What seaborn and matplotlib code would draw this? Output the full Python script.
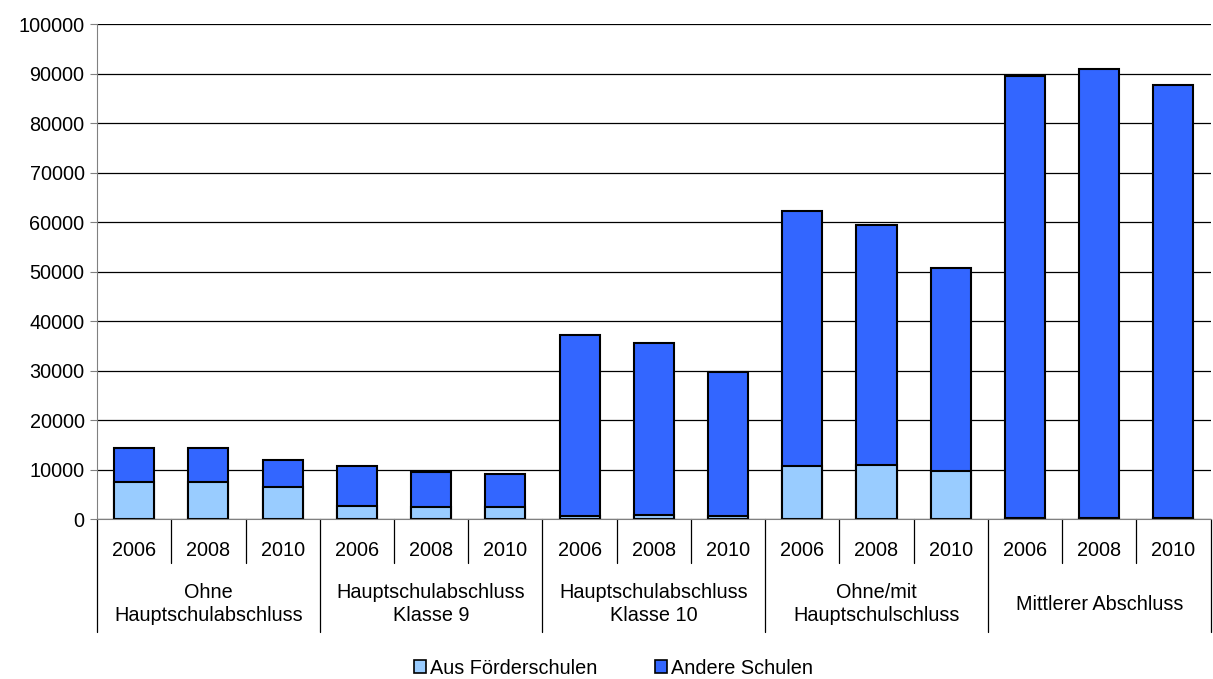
import pandas as pd
import matplotlib.pyplot as plt
import seaborn as sns
from matplotlib.patches import Patch

# -------------------------------
# Data
# -------------------------------
groups = ["Ohne\nHauptschulabschluss", "Hauptschulabschluss\nKlasse 9",
          "Hauptschulabschluss\nKlasse 10", "Ohne/mit\nHauptschulschluss",
          "Mittlerer Abschluss"]
years = ["2006", "2008", "2010"]

# stacked totals (Förderschulen + Andere Schulen)
totals = [14400, 14300, 11900,
          10800, 9400, 9100,
          37200, 35600, 29800,
          62300, 59300, 50700,
          89500, 90900, 87700]
foerder = [7400, 7500, 6500,
           2600, 2500, 2400,
           600, 800, 700,
           10700, 10900, 9800,
           200, 200, 200]

light_col = "#99CCFF"
dark_col = "#3366FF"

# -------------------------------
# Build table
# -------------------------------
keys, grp_col, yr_col = [], [], []
for g in groups:
    for y in years:
        keys.append(g + "|" + y)
        grp_col.append(g)
        yr_col.append(y)
df = pd.DataFrame({"key": keys, "group": grp_col, "year": yr_col,
                   "total": totals, "foerder": foerder})

# -------------------------------
# Plot
# -------------------------------
sns.set_style("white")
plt.rcParams["font.family"] = ["Liberation Sans", "DejaVu Sans"]
plt.rcParams["text.color"] = "black"
plt.rcParams["ytick.labelcolor"] = "black"

fs = 14.3

fig = plt.figure(figsize=(12.13, 6.79), dpi=100)
ax = fig.add_axes([0.080, 0.2356, 0.918, 0.729])

sns.barplot(data=df, x="key", y="total", order=keys, color=dark_col,
            saturation=1, edgecolor="black", linewidth=1.5, width=0.54, ax=ax)
sns.barplot(data=df, x="key", y="foerder", order=keys, color=light_col,
            saturation=1, edgecolor="black", linewidth=1.5, width=0.54, ax=ax)

ax.set_ylim(0, 100000)
ax.set_xlim(-0.5, len(keys) - 0.5)
ax.set_yticks(range(0, 100001, 10000))
ax.set_yticklabels([str(v) for v in range(0, 100001, 10000)], fontsize=fs)
ax.yaxis.grid(True, color="black", linewidth=0.9)
ax.set_axisbelow(True)
ax.set_xlabel("")
ax.set_ylabel("")
ax.set_xticks([])
ax.tick_params(axis="y", length=5, color="#808080", direction="out",
               left=True, pad=4)

for s in ["top", "right"]:
    ax.spines[s].set_visible(False)
ax.spines["left"].set_color("#808080")
ax.spines["bottom"].set_color("#808080")

# -------------------------------
# Two-level category axis
# -------------------------------
tr = ax.get_xaxis_transform()
for i, y in enumerate(yr_col):
    ax.text(i, -0.063, y, transform=tr, ha="center", va="center", fontsize=fs)
for i in range(len(keys) + 1):
    x = i - 0.5
    bottom = -0.228 if i % 3 == 0 else -0.089
    ax.plot([x, x], [0, bottom], transform=tr, color="black",
            linewidth=0.9, clip_on=False)
for j, g in enumerate(groups):
    ax.text(j * 3 + 1, -0.172, g, transform=tr, ha="center", va="center",
            fontsize=fs, linespacing=1.3)

# -------------------------------
# Legend
# -------------------------------
handles = [Patch(facecolor=light_col, edgecolor="black", linewidth=1.2),
           Patch(facecolor=dark_col, edgecolor="black", linewidth=1.2)]
fig.legend(handles, ["Aus Förderschulen", "Andere Schulen"], loc="center",
           bbox_to_anchor=(0.506, 0.016), ncol=2, frameon=False, fontsize=fs,
           handlelength=0.6, handleheight=0.6, handletextpad=0.2,
           columnspacing=2.9)

fig.savefig("out.png", dpi=100)
